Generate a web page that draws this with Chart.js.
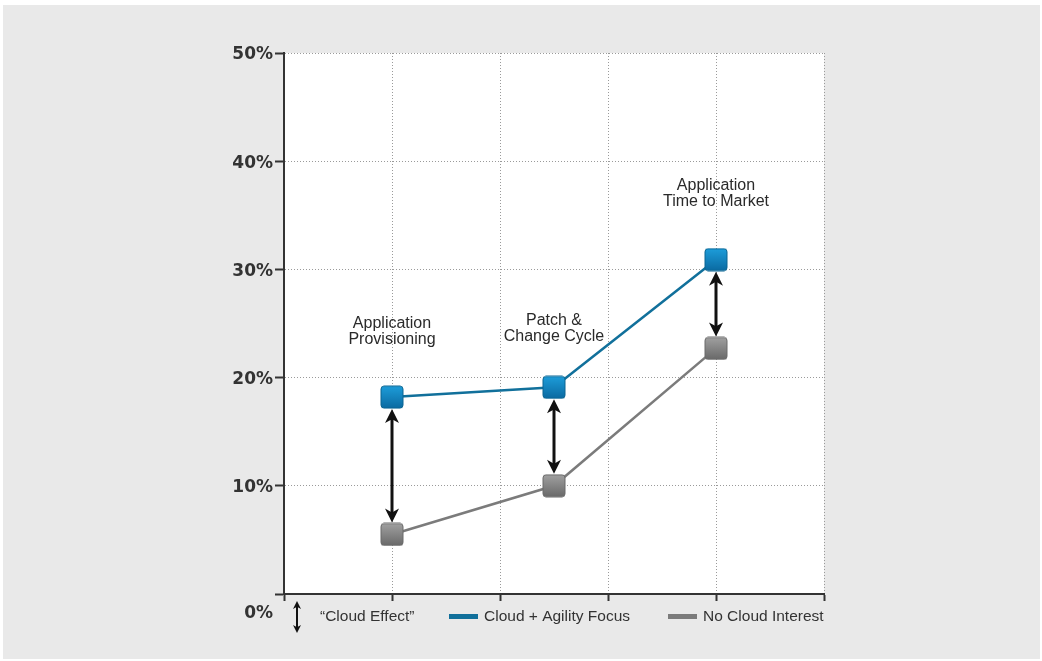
<!DOCTYPE html>
<html>
<head>
<meta charset="utf-8">
<script src="https://cdn.jsdelivr.net/npm/chart.js@4"></script>
<style>
  html, body { margin: 0; padding: 0; background: #fff; }
  #wrap { width: 1042px; height: 661px; }
</style>
</head>
<body>
<div id="wrap"><canvas id="chart" width="1042" height="661"></canvas></div>
<script>
// stages along the x axis
const stageNames = [['Application', 'Provisioning'], ['Patch &', 'Change Cycle'], ['Application', 'Time to Market']];
const stageX = [1, 2.5, 4];

// share of respondents (%)
const cloudAgility = [18.2, 19.1, 30.9];
const noCloud = [5.5, 10.0, 22.7];

const yTickValues = [0, 10, 20, 30, 40, 50];
const legendLabels = ['\u201CCloud Effect\u201D', 'Cloud + Agility Focus', 'No Cloud Interest'];

const BLUE = '#11709b';
const GRAY = '#7b7b7b';
const INK = '#333';

// rounded square marker with a vertical gradient
function makeMarker(top, bottom, edge) {
  const c = document.createElement('canvas');
  c.width = 24; c.height = 24;
  const g = c.getContext('2d');
  const grad = g.createLinearGradient(0, 0, 0, 24);
  grad.addColorStop(0, top);
  grad.addColorStop(1, bottom);
  g.beginPath();
  g.roundRect(1, 1, 22, 22, 3);
  g.fillStyle = grad;
  g.fill();
  g.strokeStyle = edge;
  g.lineWidth = 1;
  g.stroke();
  return c;
}
const blueMarker = makeMarker('#1e9fdc', '#0a689f', '#0b6592');
const grayMarker = makeMarker('#a3a3a3', '#676767', '#6a6a6a');

function arrowHead(ctx, x, y, dir, half, len) {
  // dir = 1 points down, -1 points up
  ctx.beginPath();
  ctx.moveTo(x, y);
  ctx.lineTo(x - half, y - dir * len);
  ctx.lineTo(x, y - dir * len * 0.72);
  ctx.lineTo(x + half, y - dir * len);
  ctx.closePath();
  ctx.fill();
}

function doubleArrow(ctx, x, y1, y2, width, half, len) {
  ctx.save();
  ctx.strokeStyle = '#111';
  ctx.fillStyle = '#111';
  ctx.lineWidth = width;
  ctx.beginPath();
  ctx.moveTo(x, y1 + len * 0.6);
  ctx.lineTo(x, y2 - len * 0.6);
  ctx.stroke();
  arrowHead(ctx, x, y1, -1, half, len);
  arrowHead(ctx, x, y2, 1, half, len);
  ctx.restore();
}

const decorations = {
  id: 'decorations',
  beforeDraw(chart) {
    const { ctx, chartArea: a } = chart;
    ctx.save();
    ctx.fillStyle = '#fff';
    ctx.fillRect(0, 0, chart.width, chart.height);
    ctx.fillStyle = '#e9e9e9';
    ctx.fillRect(3, 5, 1037, 654);
    ctx.fillStyle = '#fff';
    ctx.fillRect(a.left, a.top, a.right - a.left, a.bottom - a.top);
    ctx.restore();
  },
  afterDatasetsDraw(chart) {
    const { ctx, scales: { x, y } } = chart;
    // "cloud effect" gaps
    stageX.forEach((sx, i) => {
      const px = x.getPixelForValue(sx);
      const top = y.getPixelForValue(cloudAgility[i]) + 12;
      const bot = y.getPixelForValue(noCloud[i]) - 12;
      doubleArrow(ctx, px, top, bot, 3, 7, 14);
    });

    // stage captions above the upper line
    const captionLevel = [23.5, 23.75, 36.3];
    ctx.save();
    ctx.font = '16px "Liberation Sans", Arial, sans-serif';
    ctx.fillStyle = '#2a2a2a';
    ctx.textAlign = 'center';
    ctx.textBaseline = 'middle';
    stageNames.forEach((lines, i) => {
      const px = x.getPixelForValue(stageX[i]);
      const py = y.getPixelForValue(captionLevel[i]);
      ctx.fillText(lines[0], px, py - 16);
      ctx.fillText(lines[1], px, py);
    });
    ctx.restore();
  },
  afterDraw(chart) {
    const { ctx, chartArea: a, scales: { y } } = chart;
    ctx.save();
    // zero label sits under the axis
    ctx.font = 'bold 17px "DejaVu Sans", sans-serif';
    ctx.fillStyle = INK;
    ctx.textAlign = 'right';
    ctx.textBaseline = 'middle';
    ctx.fillText('0%', a.left - 11, y.getPixelForValue(0) + 20);

    // legend row
    const ly = a.bottom + 23;
    doubleArrow(ctx, 297, ly - 16, ly + 16, 2, 4, 8);
    ctx.font = '15.5px "Liberation Sans", Arial, sans-serif';
    ctx.fillStyle = INK;
    ctx.textAlign = 'left';
    ctx.fillText(legendLabels[0], 320, ly);
    ctx.fillStyle = BLUE;
    ctx.fillRect(449, ly - 3, 29, 5);
    ctx.fillStyle = INK;
    ctx.fillText(legendLabels[1], 484, ly);
    ctx.fillStyle = GRAY;
    ctx.fillRect(668, ly - 3, 29, 5);
    ctx.fillStyle = INK;
    ctx.fillText(legendLabels[2], 703, ly);
    ctx.restore();
  }
};

new Chart(document.getElementById('chart'), {
  type: 'line',
  data: {
    datasets: [
      {
        label: legendLabels[1],
        data: stageX.map((sx, i) => ({ x: sx, y: cloudAgility[i] })),
        borderColor: BLUE,
        borderWidth: 2.5,
        pointStyle: blueMarker,
        pointRadius: 12,
        tension: 0
      },
      {
        label: legendLabels[2],
        data: stageX.map((sx, i) => ({ x: sx, y: noCloud[i] })),
        borderColor: GRAY,
        borderWidth: 2.5,
        pointStyle: grayMarker,
        pointRadius: 12,
        tension: 0
      }
    ]
  },
  options: {
    responsive: false,
    animation: false,
    layout: { padding: { top: 53, right: 218, left: 0, bottom: 0 } },
    plugins: { legend: { display: false }, tooltip: { enabled: false } },
    scales: {
      x: {
        type: 'linear',
        min: 0,
        max: 5,
        ticks: { stepSize: 1, display: false },
        grid: { color: '#9a9a9a', lineWidth: 1, tickLength: 7, tickColor: INK, tickWidth: 2 },
        border: { color: INK, width: 2, dash: [1, 2] },
        afterFit: s => { s.height = 67; }
      },
      y: {
        min: 0,
        max: 50,
        afterBuildTicks: s => { s.ticks = yTickValues.map(v => ({ value: v })); },
        ticks: {
          callback: v => (v === 0 ? '' : v + '%'),
          font: { family: '"DejaVu Sans", sans-serif', weight: 'bold', size: 17 },
          color: INK,
          padding: 2,
          labelOffset: 2
        },
        grid: { color: '#9a9a9a', lineWidth: 1, tickLength: 9, tickColor: INK, tickWidth: 2 },
        border: { color: INK, width: 2, dash: [1, 2] },
        afterFit: s => { s.width = 284; }
      }
    }
  },
  plugins: [decorations]
});
</script>
</body>
</html>
